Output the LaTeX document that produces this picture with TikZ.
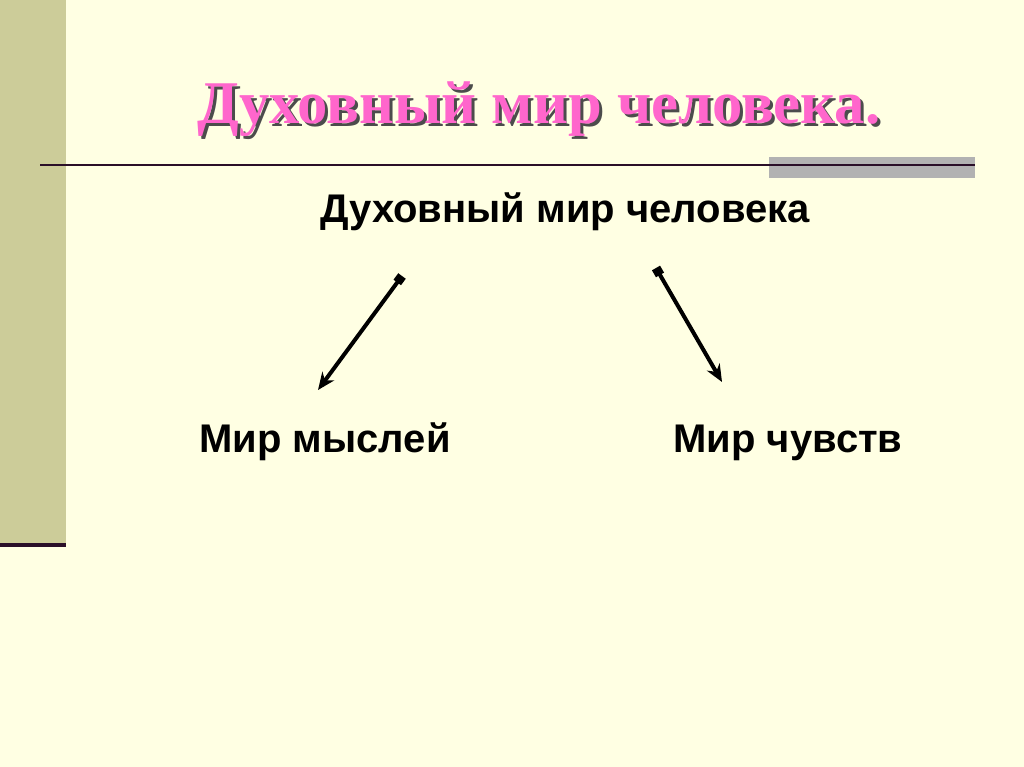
\documentclass[tikz,border=0pt]{standalone}
\usepackage{fontspec}
\setmainfont{Liberation Serif}
\setsansfont{Liberation Sans}
\usetikzlibrary{arrows.meta}
\definecolor{slidebg}{HTML}{FFFFE3}
\definecolor{sidebar}{HTML}{CCCC99}
\definecolor{rulecol}{HTML}{2A0F28}
\definecolor{titlepink}{HTML}{FF66CC}
\tikzset{
  topic/.style={font=\sffamily\bfseries\fontsize{30}{36}\selectfont, inner sep=0pt, anchor=base},
  heading/.style={font=\bfseries\fontsize{45.5}{54}\selectfont, inner sep=0pt, anchor=base},
  link/.style={line width=3pt, {Square[length=6pt,width=7pt]}-{Stealth[length=13pt,width=11pt]}}
}
\begin{document}
\begin{tikzpicture}[x=0.75pt,y=-0.75pt]
\fill[slidebg] (0,0) rectangle (1024,767);
\useasboundingbox (0,0) rectangle (1024,767);
\fill[sidebar] (0,0) rectangle (66,547);
\draw[line width=3pt, rulecol] (0,545) -- (66,545);
\fill[black!30] (769,157) rectangle (975,178);
\draw[line width=1.6pt, rulecol] (40,165) -- (975,165);
\node[heading, text=black!70] at (542,126) {Духовный мир человека.};
\node (title) [heading, text=titlepink] at (539,123) {Духовный мир человека.};
\node (main) [topic] at (565,222) {Духовный мир человека};
\node (thoughts) [topic] at (325,452) {Мир мыслей};
\node (feelings) [topic] at (788,452) {Мир чувств};
\coordinate (lt) at (402,276);
\coordinate (lh) at (318,390);
\coordinate (rt) at (656,268);
\coordinate (rh) at (722,382);
\draw[link] (lt) -- (lh);
\draw[link] (rt) -- (rh);
\end{tikzpicture}
\end{document}
